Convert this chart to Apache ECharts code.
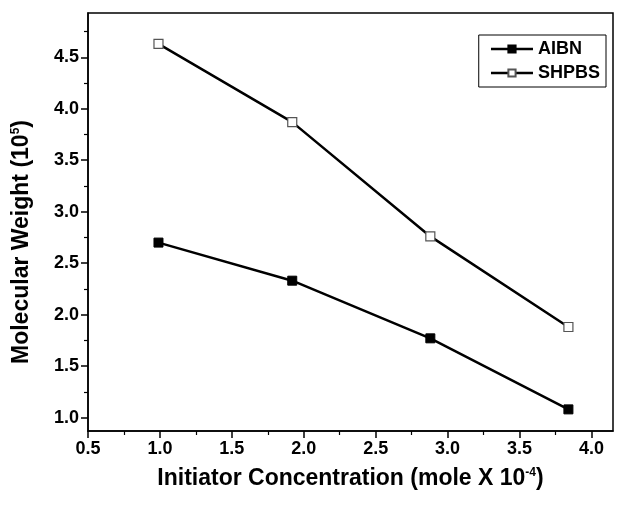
<!DOCTYPE html>
<html>
<head>
<meta charset="utf-8">
<script src="https://cdn.jsdelivr.net/npm/echarts@6/dist/echarts.min.js"></script>
<style>
  html, body { margin: 0; padding: 0; background: #fff; }
  #chart { width: 626px; height: 506px; }
</style>
</head>
<body>
<div id="chart"></div>
<script>
  const concentration = [0.99, 1.92, 2.88, 3.84]
  const aibn = [2.70, 2.33, 1.77, 1.08]
  const shpbs = [4.63, 3.87, 2.76, 1.88]

  const xTicks = [0.5, 1.0, 1.5, 2.0, 2.5, 3.0, 3.5, 4.0]
  const xMinor = [0.75, 1.25, 1.75, 2.25, 2.75, 3.25, 3.75]
  const yTicks = [1.0, 1.5, 2.0, 2.5, 3.0, 3.5, 4.0, 4.5]
  const yMinor = [1.25, 1.75, 2.25, 2.75, 3.25, 3.75, 4.25, 4.75]

  const font = 'Liberation Sans'
  const pair = (xs, ys) => xs.map((x, i) => [x, ys[i]])

  const chart = echarts.init(document.getElementById('chart'))

  const xBase = {
    type: 'value',
    min: 0.5,
    max: 4.15,
    splitLine: { show: false },
    axisLine: { lineStyle: { color: '#000', width: 1.5 } }
  }
  const yBase = {
    type: 'value',
    min: 0.87,
    max: 4.93,
    splitLine: { show: false },
    axisLine: { lineStyle: { color: '#000', width: 1.5 } }
  }
  const nameRich = {
    t: { fontFamily: font, fontWeight: 'bold', fontSize: 23, color: '#000' },
    s: { fontFamily: font, fontWeight: 'bold', fontSize: 12, color: '#000', padding: [0, 0, 12, 0] }
  }
  const labelStyle = { fontFamily: font, fontWeight: 'bold', fontSize: 18, color: '#000' }

  chart.setOption({
    animation: false,
    grid: {
      left: 88, right: 13, top: 13, bottom: 75,
      show: true, borderColor: '#000', borderWidth: 1.5
    },
    legend: {
      orient: 'vertical',
      right: 20,
      top: 35,
      itemWidth: 42,
      itemHeight: 9,
      itemGap: 6,
      padding: [5, 6, 5, 11],
      borderColor: '#000',
      borderWidth: 1,
      lineStyle: { width: 2.5 },
      textStyle: { fontFamily: font, fontWeight: 'bold', fontSize: 18, color: '#000' },
      data: ['AIBN', 'SHPBS']
    },
    xAxis: [
      Object.assign({}, xBase, {
        name: '{t|Initiator Concentration (mole X 10}{s|-4}{t|)}',
        nameLocation: 'middle',
        nameGap: 36,
        nameTextStyle: { rich: nameRich },
        axisTick: { customValues: xTicks, length: 7, lineStyle: { color: '#000', width: 1.5 } },
        axisLabel: Object.assign({
          customValues: xTicks,
          margin: 9,
          formatter: v => v.toFixed(1)
        }, labelStyle)
      }),
      Object.assign({}, xBase, {
        position: 'bottom',
        axisLine: { show: false },
        axisTick: { customValues: xMinor, length: 4, lineStyle: { color: '#000', width: 1.2 } },
        axisLabel: { show: false }
      })
    ],
    yAxis: [
      Object.assign({}, yBase, {
        name: '{t|Molecular Weight (10}{s|5}{t|)}',
        nameLocation: 'middle',
        nameGap: 54,
        nameTextStyle: { rich: nameRich, padding: [0, 40, 0, 0] },
        axisTick: { customValues: yTicks, length: 7, lineStyle: { color: '#000', width: 1.5 } },
        axisLabel: Object.assign({
          customValues: yTicks,
          margin: 9,
          formatter: v => v.toFixed(1)
        }, labelStyle)
      }),
      Object.assign({}, yBase, {
        position: 'left',
        axisLine: { show: false },
        axisTick: { customValues: yMinor, length: 4, lineStyle: { color: '#000', width: 1.2 } },
        axisLabel: { show: false }
      })
    ],
    series: [
      {
        name: 'AIBN',
        type: 'line',
        data: pair(concentration, aibn),
        symbol: 'rect',
        symbolSize: 9,
        lineStyle: { color: '#000', width: 2.5 },
        itemStyle: { color: '#000', borderColor: '#000', borderWidth: 1 }
      },
      {
        name: 'SHPBS',
        type: 'line',
        data: pair(concentration, shpbs),
        symbol: 'rect',
        symbolSize: 9,
        lineStyle: { color: '#000', width: 2.5 },
        itemStyle: { color: '#fff', borderColor: '#555', borderWidth: 1.2 }
      }
    ]
  })
</script>
</body>
</html>
